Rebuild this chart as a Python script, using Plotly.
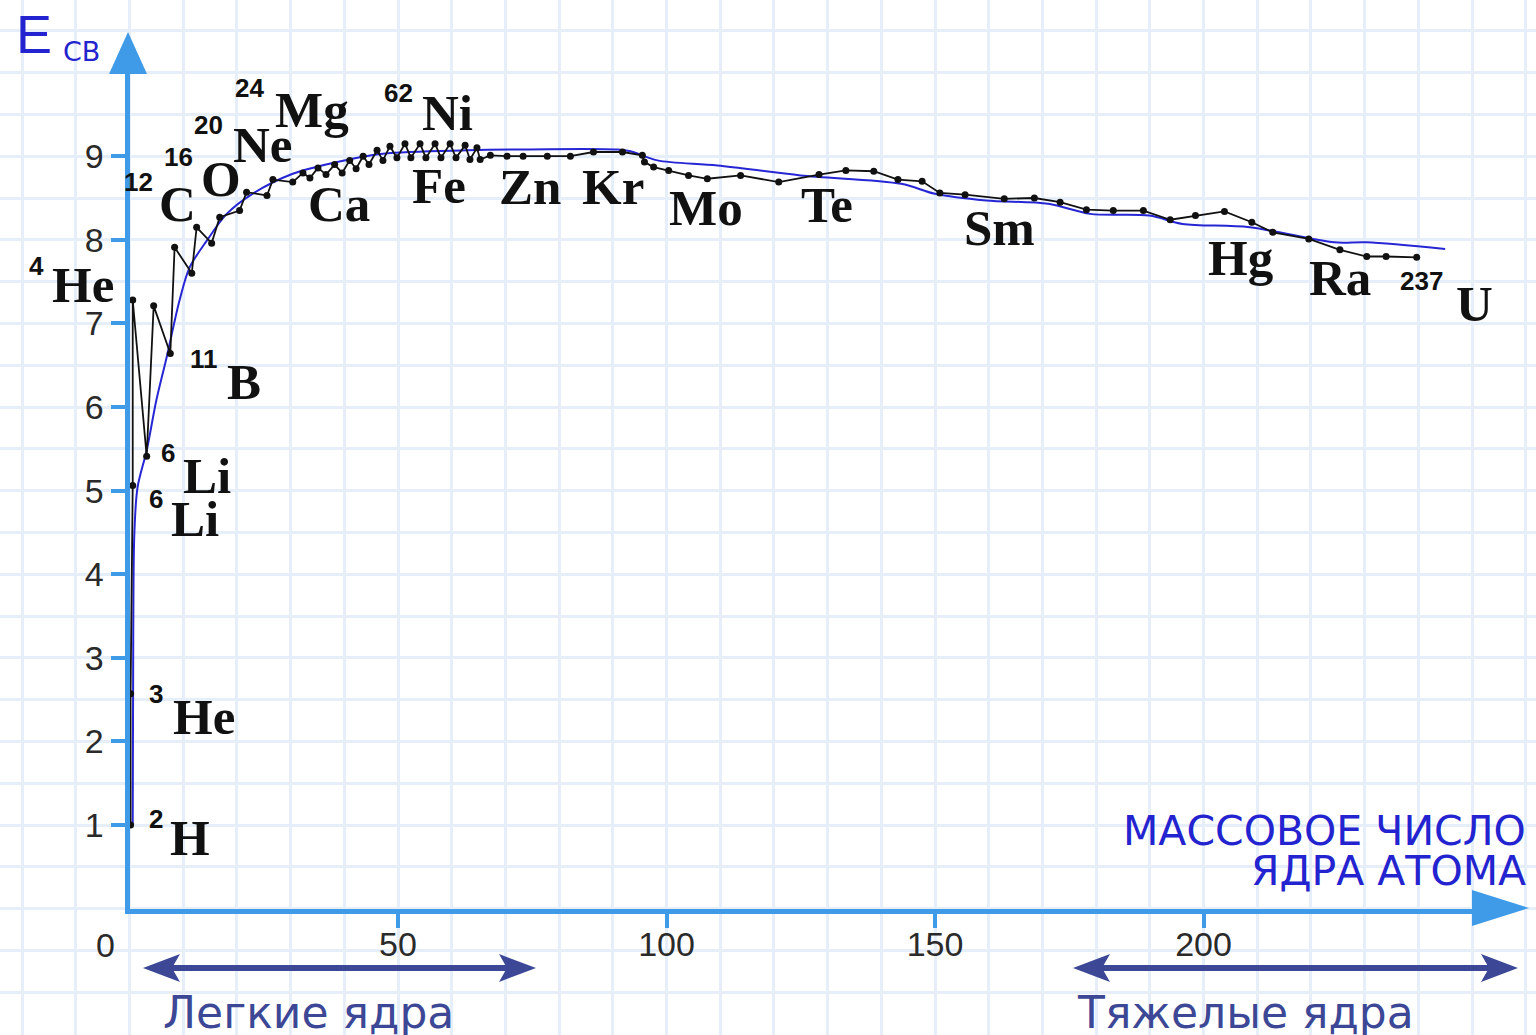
import plotly.graph_objects as go

# ---------------- data ----------------
# mass number A and specific binding energy (MeV per nucleon), measured points
black_A = [0.2, 0.2, 0.6, 0.6, 3.2, 4.5, 7.6, 8.4, 11.6, 12.5, 15.3, 16.8, 20.5, 21.8,
           25.6, 26.7, 30.4, 32.3, 33.6, 35.1, 36.6, 38.2, 39.6, 41.0, 42.2, 43.5,
           44.6, 46.1, 47.2, 48.5, 49.8, 51.3, 52.4, 54.1, 55.2, 56.9, 58.0, 59.7,
           60.8, 62.5, 63.4, 64.7, 65.3, 67.2, 70.3, 73.3, 77.8, 82.1, 86.4, 91.8,
           95.5, 95.9, 97.6, 100.4, 104.1, 107.6, 113.8, 120.9, 128.4, 133.4, 138.6,
           143.1, 147.6, 150.9, 155.6, 162.9, 168.5, 173.3, 178.2, 183.2, 188.8,
           193.8, 198.5, 203.9, 209.0, 212.9, 219.6, 225.4, 230.4, 234.0, 239.7]
black_E = [1.00, 2.57, 5.06, 7.28, 5.41, 7.21, 6.64, 7.91, 7.60, 8.15, 7.96, 8.27, 8.35, 8.57,
           8.53, 8.72, 8.69, 8.80, 8.74, 8.86, 8.78, 8.90, 8.80, 8.95, 8.85, 9.00,
           8.90, 9.07, 8.95, 9.12, 8.98, 9.15, 8.98, 9.15, 8.98, 9.15, 8.98, 9.15,
           8.98, 9.13, 8.96, 9.10, 8.96, 9.01, 9.00, 9.00, 9.00, 9.00, 9.05, 9.05,
           9.01, 8.93, 8.87, 8.83, 8.77, 8.73, 8.77, 8.69, 8.78, 8.83, 8.82,
           8.72, 8.70, 8.56, 8.54, 8.49, 8.50, 8.45, 8.36, 8.35, 8.35,
           8.24, 8.29, 8.34, 8.21, 8.09, 8.01, 7.88, 7.80, 7.80, 7.79]

# smooth trend curve
fit_A = [0.6, 0.7, 0.9, 1.5, 3.2, 5.0, 6.9, 9.3, 11.2, 14.4, 18.1, 22.9, 30.4, 37.9,
         47.2, 62.9, 90.9, 93.3, 98.3, 109.5, 125.0, 143.7, 150.0, 159.5, 171.1,
         178.9, 189.9, 196.1, 208.6, 224.3, 230.4, 245.0]
fit_E = [1.00, 3.30, 4.48, 5.04, 5.48, 6.08, 6.59, 7.27, 7.67, 7.99, 8.31, 8.55, 8.79, 8.92,
         9.03, 9.07, 9.08, 9.06, 8.95, 8.89, 8.77, 8.67, 8.55, 8.47, 8.43,
         8.31, 8.29, 8.19, 8.15, 7.97, 7.97, 7.89]

x_tick_vals = [50, 100, 150, 200]
x_tick_text = ["50", "100", "150", "200"]
y_tick_vals = [1, 2, 3, 4, 5, 6, 7, 8, 9]
y_tick_text = [str(v) for v in y_tick_vals]

# element labels: (mass-number superscript, symbol)
label_sup = ["4", "12", "16", "20", "24", "62", "", "", "", "", "", "", "", "", "", "237",
             "11", "6", "6", "3", "2"]
label_sym = ["He", "C", "O", "Ne", "Mg", "Ni", "Ca", "Fe", "Zn", "Kr", "Mo", "Te", "Sm", "Hg",
             "Ra", "U", "B", "Li", "Li", "He", "H"]

y_title_main = "E"
y_title_sub = "СВ"
x_title_lines = ["МАССОВОЕ ЧИСЛО", "ЯДРА АТОМА"]
left_range_text = "Легкие ядра"
right_range_text = "Тяжелые ядра"

# ---------------- layout geometry (pixels) ----------------
W, H = 1536, 1035
OX, OY = 129.5, 908.6          # origin in page pixels
SX, SY = 5.37, 83.6            # pixels per unit
X_END, Y_END = 1474.0, 72.0    # where the axis lines end (arrow bases)

AXIS_C = "#3f9be8"
GRID_C = "#e6eefa"
ARROW_C = "#3c4896"
TITLE_C = "#2323cf"
INK = "#111111"


def pp(x, y):
    return x / W, 1 - y / H


fig = go.Figure()

# invisible trace on the full-page grid axes
fig.add_trace(go.Scatter(x=[0], y=[0], mode="markers", marker=dict(opacity=0),
                         hoverinfo="skip", showlegend=False, xaxis="x", yaxis="y"))

fig.add_trace(go.Scatter(x=fit_A, y=fit_E, mode="lines",
                         line=dict(color="#2626d4", width=2, shape="spline", smoothing=0.9),
                         showlegend=False, xaxis="x2", yaxis="y2", cliponaxis=False))
fig.add_trace(go.Scatter(x=black_A, y=black_E, mode="lines+markers",
                         line=dict(color=INK, width=1.8),
                         marker=dict(size=7, color=INK),
                         showlegend=False, xaxis="x2", yaxis="y2", cliponaxis=False))

annotations = []

# element label positions (page pixels) for superscripts and symbols
sup_pos = [(36, 266), (138, 182), (178, 157), (208, 125), (249, 88), (398, 93), None, None, None,
           None, None, None, None, None, None, (1421, 281), (204, 359), (168, 453),
           (156, 499), (156, 694), (156, 819)]
sym_pos = [(83, 285), (177, 204), (221, 179), (262, 145), (312, 110), (447, 113), (339, 204),
           (439, 186), (530, 187), (613, 187), (706, 208), (827, 205), (999, 228), (1240, 258),
           (1340, 278), (1474, 304), (244, 382), (207, 476), (195, 519), (204, 717),
           (190, 838)]

for s, sp, t, tp in zip(label_sup, sup_pos, label_sym, sym_pos):
    if s and sp:
        x, y = pp(*sp)
        annotations.append(dict(x=x, y=y, xref="paper", yref="paper", text="<b>%s</b>" % s,
                                showarrow=False, xanchor="center", yanchor="middle",
                                font=dict(family="Liberation Sans, Arial", size=26, color=INK)))
    if t and tp:
        x, y = pp(*tp)
        annotations.append(dict(x=x, y=y, xref="paper", yref="paper", text="<b>%s</b>" % t,
                                showarrow=False, xanchor="center", yanchor="middle",
                                font=dict(family="Liberation Serif, Times New Roman", size=51,
                                          color=INK)))

# origin label
x, y = pp(105, 945)
annotations.append(dict(x=x, y=y, xref="paper", yref="paper", text="0", showarrow=False,
                        xanchor="center", yanchor="middle",
                        font=dict(family="Liberation Sans, Arial", size=34, color="#2a2a2a")))

# y axis title
x, y = pp(34, 34)
annotations.append(dict(x=x, y=y, xref="paper", yref="paper", text=y_title_main, showarrow=False,
                        xanchor="center", yanchor="middle",
                        font=dict(family="Liberation Sans, Arial", size=54, color=TITLE_C)))
x, y = pp(81, 52)
annotations.append(dict(x=x, y=y, xref="paper", yref="paper", text=y_title_sub, showarrow=False,
                        xanchor="center", yanchor="middle",
                        font=dict(family="DejaVu Sans", size=27, color=TITLE_C)))

# x axis title (two lines, right aligned)
for line_text, cy in zip(x_title_lines, [831, 871]):
    x, y = pp(1528, cy)
    annotations.append(dict(x=x, y=y, xref="paper", yref="paper", text=line_text,
                            showarrow=False, xanchor="right", yanchor="middle",
                            font=dict(family="DejaVu Sans", size=41, color=TITLE_C)))

# range captions
for txt, cx in [(left_range_text, 308), (right_range_text, 1245)]:
    x, y = pp(cx, 1012)
    annotations.append(dict(x=x, y=y, xref="paper", yref="paper", text=txt, showarrow=False,
                            xanchor="center", yanchor="middle",
                            font=dict(family="DejaVu Sans", size=44, color=ARROW_C)))

shapes = []


def tri_path(pts):
    return "M " + " L ".join("%f,%f" % pp(*p) for p in pts) + " Z"


# axis arrow heads
shapes.append(dict(type="path", xref="paper", yref="paper",
                   path=tri_path([(128, 32), (147, 74), (109, 74)]),
                   fillcolor=AXIS_C, line=dict(width=0)))
shapes.append(dict(type="path", xref="paper", yref="paper",
                   path=tri_path([(1529, 908), (1472, 926), (1472, 890)]),
                   fillcolor=AXIS_C, line=dict(width=0)))

# double-headed range arrows
for x1, x2 in [(143, 536), (1073, 1518)]:
    yv = 968
    xa, ya = pp(x1 + 20, yv)
    xb, yb = pp(x2 - 20, yv)
    shapes.append(dict(type="line", xref="paper", yref="paper", x0=xa, y0=ya, x1=xb, y1=yb,
                       line=dict(color=ARROW_C, width=6)))
    shapes.append(dict(type="path", xref="paper", yref="paper",
                       path=tri_path([(x1, yv), (x1 + 37, yv - 14), (x1 + 29, yv),
                                      (x1 + 37, yv + 14)]),
                       fillcolor=ARROW_C, line=dict(width=0)))
    shapes.append(dict(type="path", xref="paper", yref="paper",
                       path=tri_path([(x2, yv), (x2 - 37, yv - 14), (x2 - 29, yv),
                                      (x2 - 37, yv + 14)]),
                       fillcolor=ARROW_C, line=dict(width=0)))

tick_font = dict(family="Liberation Sans, Arial", size=34, color="#2a2a2a")

fig.update_layout(
    width=W, height=H,
    margin=dict(l=0, r=0, t=0, b=0, pad=0),
    paper_bgcolor="white", plot_bgcolor="rgba(0,0,0,0)",
    showlegend=False,
    xaxis=dict(domain=[0, 1], range=[-OX / SX, (W - OX) / SX], tick0=0, dtick=10,
               showgrid=True, gridcolor=GRID_C, gridwidth=2.5, zeroline=False,
               showticklabels=False, ticks="", showline=False, fixedrange=True),
    yaxis=dict(domain=[0, 1], range=[-(H - OY) / SY, OY / SY], tick0=0, dtick=0.5,
               showgrid=True, gridcolor=GRID_C, gridwidth=2.5, zeroline=False,
               showticklabels=False, ticks="", showline=False, fixedrange=True),
    xaxis2=dict(domain=[OX / W, X_END / W], range=[0, (X_END - OX) / SX], anchor="y2",
                showgrid=False, zeroline=False, showline=True, linecolor=AXIS_C, linewidth=5,
                ticks="outside", ticklen=14, tickwidth=4, tickcolor=AXIS_C,
                tickmode="array", tickvals=x_tick_vals, ticktext=x_tick_text,
                tickfont=tick_font, ticklabelstandoff=-12, fixedrange=True),
    yaxis2=dict(domain=[(H - OY) / H, (H - Y_END) / H], range=[0, (OY - Y_END) / SY],
                anchor="x2", showgrid=False, zeroline=False, showline=True, linecolor=AXIS_C,
                linewidth=5, ticks="outside", ticklen=14, tickwidth=4, tickcolor=AXIS_C,
                tickmode="array", tickvals=y_tick_vals, ticktext=y_tick_text,
                tickfont=tick_font, fixedrange=True),
    annotations=annotations,
    shapes=shapes,
)

fig.write_html("out.html",
               config={"displayModeBar": False},
               post_script="document.body.style.margin='0px';"
                           "document.body.style.overflow='hidden';")
